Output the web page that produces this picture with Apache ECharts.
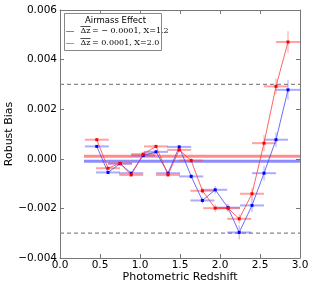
<!DOCTYPE html>
<html><head><meta charset="utf-8">
<script src="https://cdn.jsdelivr.net/npm/echarts@6/dist/echarts.min.js"></script>
<style>html,body{margin:0;padding:0;background:#fff}#c{width:314px;height:290px}</style>
</head><body><div id="c"></div>
<script>
// Data (bias values in units of 1e-3)
const redshift = [0.46, 0.60, 0.75, 0.89, 1.04, 1.20, 1.35, 1.49, 1.64, 1.78, 1.94, 2.10, 2.24, 2.40, 2.55, 2.70, 2.85];
const biasBlue = [0.50, -0.55, -0.20, -0.58, 0.13, 0.28, -0.58, 0.48, -0.71, -1.68, -1.25, -1.97, -2.97, -1.88, -0.58, 0.77, 2.78];
const biasRed  = [0.77, -0.38, -0.18, -0.65, 0.19, 0.50, -0.65, 0.36, -0.07, -1.29, -1.99, -1.99, -2.42, -1.41, 0.63, 2.92, 4.71];
const errBlue  = [0.05, 0.05, 0.05, 0.05, 0.05, 0.05, 0.06, 0.08, 0.10, 0.12, 0.15, 0.15, 0.28, 0.27, 0.30, 0.30, 0.40];
const errRed   = [0.05, 0.05, 0.05, 0.05, 0.05, 0.05, 0.06, 0.08, 0.10, 0.12, 0.15, 0.15, 0.18, 0.24, 0.33, 0.32, 0.44];
const zErr = 0.15;
const meanBlue = -0.0001, meanRed = 0.0001;
const meanStart = 0.3, meanEnd = 3.0;
const limitLines = [0.003, -0.003];
const legendTitle = 'Airmass Effect';
const labelBlue = ['Δz', '= − 0.0001, X=1.2'];
const labelRed = ['Δz', '= 0.0001, X=2.0'];

const chart = echarts.init(document.getElementById('c'));
const F = 'DejaVu Sans';
const toPts = (ys) => redshift.map((x, i) => [x, ys[i] * 1e-3]);
const errData = (ys, es) => redshift.map((x, i) => [x, ys[i] * 1e-3, es[i] * 1e-3]);

function errSeries(name, ys, es, colLight) {
  return {
    type: 'custom', name: name + 'err', z: 3,
    data: errData(ys, es),
    renderItem: (params, api) => {
      const x = api.value(0), y = api.value(1), e = api.value(2);
      const l = api.coord([x - zErr, y]), r = api.coord([x + zErr, y]);
      const t = api.coord([x, y + e]), b = api.coord([x, y - e]);
      const cs = params.coordSys;
      const clip = {x: cs.x, y: cs.y, width: cs.width, height: cs.height};
      return {type: 'group', clipPath: {type:'rect', shape: clip}, children: [
        {type: 'line', shape: {x1: l[0], y1: l[1], x2: r[0], y2: r[1]}, style: {stroke: colLight, lineWidth: 2}},
        {type: 'line', shape: {x1: t[0], y1: t[1], x2: b[0], y2: b[1]}, style: {stroke: colLight, lineWidth: 1}}
      ]};
    }
  };
}
function fmtY(v) { return (Math.abs(v) < 1e-9 ? 0 : v).toFixed(3).replace('-', '\u2212'); }

const axisCommon = {
  axisLine: {onZero: false, lineStyle: {color: '#777', width: 1}},
  axisTick: {inside: true, length: 4, lineStyle: {color: '#777'}},
  splitLine: {show: false}
};

const option = {
  animation: false,
  grid: {left: 60, right: 14, top: 10, bottom: 32, containLabel: false, outerBoundsMode: 'none'},
  xAxis: [
    Object.assign({type: 'value', min: 0, max: 3, interval: 0.5, position: 'bottom',
      name: 'Photometric Redshift', nameLocation: 'middle', nameGap: 14, nameMoveOverlap: false,
      nameTextStyle: {fontFamily: F, fontSize: 11, color: '#000'},
      axisLabel: {fontFamily: F, fontSize: 10.5, color: '#000', margin: 2, formatter: v => v.toFixed(1)}}, axisCommon),
    Object.assign({type: 'value', min: 0, max: 3, interval: 0.5, position: 'top', axisLabel: {show: false}}, axisCommon)
  ],
  yAxis: [
    Object.assign({type: 'value', min: -0.004, max: 0.006, interval: 0.002, position: 'left',
      name: 'Robust Bias', nameLocation: 'middle', nameGap: 45, nameMoveOverlap: false,
      nameTextStyle: {fontFamily: F, fontSize: 11, color: '#000'},
      axisLabel: {fontFamily: F, fontSize: 10.5, color: '#000', margin: 3, formatter: fmtY}}, axisCommon),
    Object.assign({type: 'value', min: -0.004, max: 0.006, interval: 0.002, position: 'right', axisLabel: {show: false}}, axisCommon)
  ],
  series: [
    {type: 'line', name: 'lim1', data: [[0, limitLines[0]], [3, limitLines[0]]], symbol: 'none', silent: true,
      lineStyle: {color: '#888', width: 1.2, type: [4, 3]}, z: 1},
    {type: 'line', name: 'lim2', data: [[0, limitLines[1]], [3, limitLines[1]]], symbol: 'none', silent: true,
      lineStyle: {color: '#888', width: 1.2, type: [4, 3]}, z: 1},
    {type: 'line', name: 'meanBlue', data: [[meanStart, meanBlue], [meanEnd, meanBlue]], symbol: 'none',
      lineStyle: {color: 'rgba(0,0,255,0.45)', width: 3}, z: 2},
    {type: 'line', name: 'meanRed', data: [[meanStart, meanRed], [meanEnd, meanRed]], symbol: 'none',
      lineStyle: {color: 'rgba(255,0,0,0.45)', width: 3}, z: 2},
    errSeries('blue', biasBlue, errBlue, 'rgba(90,90,255,0.5)'),
    errSeries('red', biasRed, errRed, 'rgba(255,70,70,0.5)'),
    {type: 'line', name: 'blue', data: toPts(biasBlue), symbol: 'rect', symbolSize: 3,
      itemStyle: {color: '#00f'}, lineStyle: {color: 'rgba(60,60,255,0.75)', width: 1}, z: 4},
    {type: 'line', name: 'red', data: toPts(biasRed), symbol: 'rect', symbolSize: 3,
      itemStyle: {color: '#f00'}, lineStyle: {color: 'rgba(255,50,50,0.75)', width: 1}, z: 5}
  ],
  graphic: [
    {type: 'rect', left: 64, top: 13, shape: {width: 97, height: 37}, style: {fill: '#fff', stroke: '#888', lineWidth: 1}, z: 100},
    {type: 'text', left: 85, top: 16, style: {text: legendTitle, font: '8.5px "DejaVu Sans"', fill: '#000'}, z: 101},
    {type: 'line', shape: {x1: 66, y1: 31.5, x2: 74, y2: 31.5}, style: {stroke: 'rgba(60,60,255,0.7)', lineWidth: 1}, z: 101},
    {type: 'line', shape: {x1: 66, y1: 43.5, x2: 74, y2: 43.5}, style: {stroke: 'rgba(255,50,50,0.7)', lineWidth: 1}, z: 101},
    {type: 'text', left: 80.5, top: 27, style: {text: labelBlue[0], font: '8px "DejaVu Serif"', fill: '#000'}, z: 101},
    {type: 'line', shape: {x1: 80.5, y1: 26.5, x2: 90.5, y2: 26.5}, style: {stroke: '#000', lineWidth: 0.7}, z: 101},
    {type: 'text', left: 92, top: 27, style: {text: labelBlue[1], font: '8px "DejaVu Serif"', fill: '#000'}, z: 101},
    {type: 'text', left: 80.5, top: 39, style: {text: labelRed[0], font: '8px "DejaVu Serif"', fill: '#000'}, z: 101},
    {type: 'line', shape: {x1: 80.5, y1: 38.5, x2: 90.5, y2: 38.5}, style: {stroke: '#000', lineWidth: 0.7}, z: 101},
    {type: 'text', left: 92, top: 39, style: {text: labelRed[1], font: '8px "DejaVu Serif"', fill: '#000'}, z: 101}
  ]
};
chart.setOption(option);
</script></body></html>
